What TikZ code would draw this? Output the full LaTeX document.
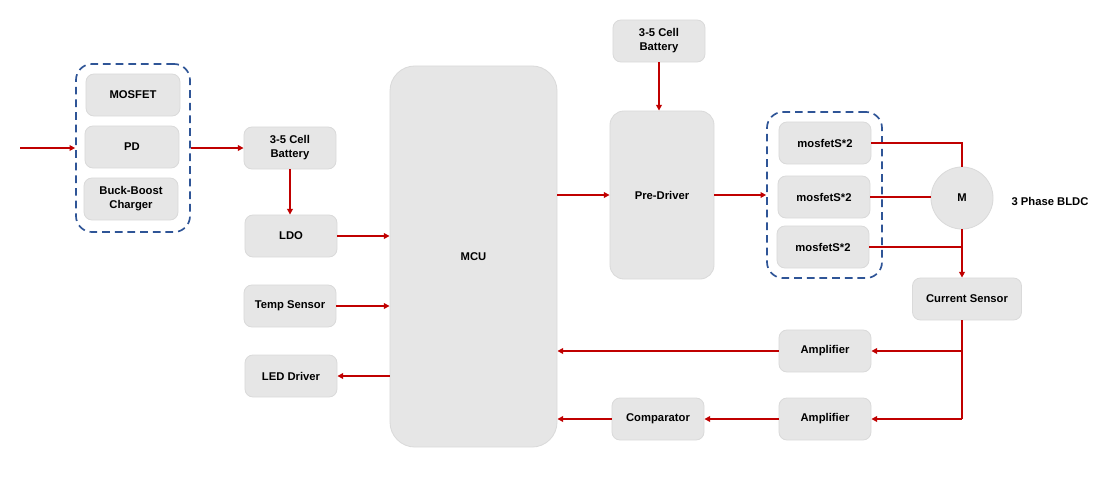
\documentclass[tikz,border=0pt]{standalone}
\usepackage{fontspec}
\setmainfont{Liberation Sans}
\usetikzlibrary{arrows.meta}
\definecolor{boxfill}{HTML}{E6E6E6}
\definecolor{boxline}{HTML}{DADADA}
\definecolor{redline}{HTML}{C00000}
\definecolor{blueline}{HTML}{2F5597}
\tikzset{
	block/.style={draw=boxline, fill=boxfill, line width=0.6pt, rounded corners=0.2cm, inner sep=0pt,
		minimum width=2.3cm, minimum height=1.05cm, align=center, font=\bfseries\fontsize{8}{10}\selectfont},
	groupbox/.style={draw=blueline, line width=1.2pt, dash pattern=on 5.5pt off 3.5pt, rounded corners=0.4cm, inner sep=0pt},
	wire/.style={draw=redline, line width=1.2pt},
	feed/.style={wire, -{Triangle[length=4pt,width=4pt]}},
}
\begin{document}
\begin{tikzpicture}[x=0.025cm, y=-0.025cm]
	\useasboundingbox (0,0) rectangle (1114,481);
	\node[groupbox, minimum width=2.85cm, minimum height=4.2cm] (charge) at (133,148) {};
	\node[block, minimum width=2.35cm] (mosfet) at (133,95) {MOSFET};
	\node[block, minimum width=2.35cm] (pd) at (132,147) {PD};
	\node[block, minimum width=2.35cm] (charger) at (131,199) {Buck-Boost\\Charger};
	\node[block] (bat) at (290,148) {3-5 Cell\\Battery};
	\node[block] (ldo) at (291,236) {LDO};
	\node[block] (temp) at (290,306) {Temp Sensor};
	\node[block] (led) at (291,376) {LED Driver};
	\node[block, minimum width=4.175cm, minimum height=9.525cm, rounded corners=0.625cm] (mcu) at (473.5,256.5) {MCU};
	\node[block] (bat2) at (659,41) {3-5 Cell\\Battery};
	\node[block, minimum width=2.6cm, minimum height=4.2cm, rounded corners=0.35cm] (drv) at (662,195) {Pre-Driver};
	\node[groupbox, minimum width=2.875cm, minimum height=4.15cm] (bridge) at (824.5,195) {};
	\node[block] (fet1) at (825,143) {mosfetS*2};
	\node[block] (fet2) at (824,197) {mosfetS*2};
	\node[block] (fet3) at (823,247) {mosfetS*2};
	\node[block, circle, minimum size=1.55cm] (motor) at (962,198) {M};
	\node[font=\bfseries\fontsize{8}{10}\selectfont] (bldc) at (1050,201) {3 Phase BLDC};
	\node[block, minimum width=2.725cm] (sense) at (967,299) {Current Sensor};
	\node[block] (amp1) at (825,351) {Amplifier};
	\node[block] (amp2) at (825,419) {Amplifier};
	\node[block] (cmp) at (658,419) {Comparator};
	\coordinate (usb) at (20,148);
	\coordinate (tap) at (motor |- amp2);
	\draw[feed] (usb) -- (charge.west);
	\draw[feed] (charge.east) -- (bat.west);
	\draw[feed] (bat.south) -- (bat.south |- ldo.north);
	\draw[feed] (ldo.east) -- (mcu.west |- ldo);
	\draw[feed] (temp.east) -- (mcu.west |- temp);
	\draw[feed] (mcu.west |- led) -- (led.east);
	\draw[feed] (bat2.south) -- (bat2.south |- drv.north);
	\draw[feed] (mcu.east |- drv) -- (drv.west);
	\draw[feed] (drv.east) -- (bridge.west);
	\draw[wire] (fet1.east) -| (motor.north);
	\draw[wire] (fet2.east) -- (fet2.east -| motor.west);
	\draw[wire] (fet3.east) -- (fet3.east -| motor.south);
	\draw[feed] (motor.south) -- (motor.south |- sense.north);
	\draw[wire] (motor |- sense.south) -- (tap);
	\draw[feed] (tap) -- (amp2.east);
	\draw[feed] (motor |- amp1) -- (amp1.east);
	\draw[feed] (amp1.west) -- (mcu.east |- amp1);
	\draw[feed] (amp2.west) -- (cmp.east);
	\draw[feed] (cmp.west) -- (mcu.east |- cmp);
\end{tikzpicture}
\end{document}
